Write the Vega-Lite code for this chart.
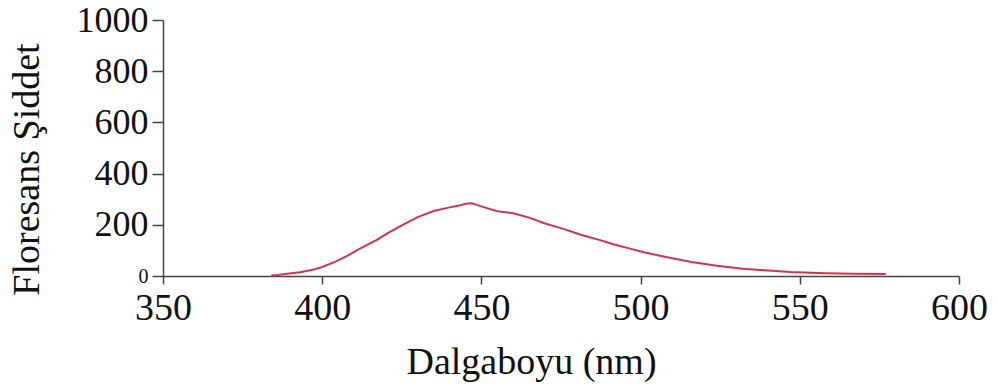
{
  "$schema": "https://vega.github.io/schema/vega-lite/v6.json",
  "autosize": "none",
  "width": 796,
  "height": 256,
  "padding": {"left": 163, "top": 20, "right": 39, "bottom": 115},
  "background": "white",
  "config": {
    "view": {"stroke": null},
    "font": "Liberation Serif",
    "axis": {
      "grid": false,
      "domainColor": "#444444",
      "tickColor": "#444444",
      "domainWidth": 1.5,
      "tickWidth": 1.5,
      "labelFont": "Liberation Serif",
      "titleFont": "Liberation Serif",
      "labelColor": "#111111",
      "titleColor": "#111111",
      "titleFontWeight": "normal",
      "labelFontSize": 38,
      "titleFontSize": 38
    }
  },
  "data": {
    "values": [
      {"wavelength": 384, "intensity": 2},
      {"wavelength": 386, "intensity": 4},
      {"wavelength": 389, "intensity": 9},
      {"wavelength": 393, "intensity": 15},
      {"wavelength": 397, "intensity": 24},
      {"wavelength": 400, "intensity": 35},
      {"wavelength": 404, "intensity": 55},
      {"wavelength": 408, "intensity": 80},
      {"wavelength": 412, "intensity": 108},
      {"wavelength": 417, "intensity": 140},
      {"wavelength": 421, "intensity": 170},
      {"wavelength": 425, "intensity": 198},
      {"wavelength": 430, "intensity": 230},
      {"wavelength": 435, "intensity": 254},
      {"wavelength": 440, "intensity": 268},
      {"wavelength": 443, "intensity": 275},
      {"wavelength": 445, "intensity": 282},
      {"wavelength": 447, "intensity": 284},
      {"wavelength": 449, "intensity": 276},
      {"wavelength": 451, "intensity": 268},
      {"wavelength": 455, "intensity": 253},
      {"wavelength": 460, "intensity": 245},
      {"wavelength": 465, "intensity": 228},
      {"wavelength": 470, "intensity": 205},
      {"wavelength": 476, "intensity": 183},
      {"wavelength": 481, "intensity": 162},
      {"wavelength": 487, "intensity": 141},
      {"wavelength": 492, "intensity": 122},
      {"wavelength": 497, "intensity": 106},
      {"wavelength": 501, "intensity": 93},
      {"wavelength": 508, "intensity": 74},
      {"wavelength": 516, "intensity": 55},
      {"wavelength": 524, "intensity": 40},
      {"wavelength": 532, "intensity": 28},
      {"wavelength": 539, "intensity": 22},
      {"wavelength": 547, "intensity": 16},
      {"wavelength": 558, "intensity": 11},
      {"wavelength": 567, "intensity": 9},
      {"wavelength": 577, "intensity": 8}
    ]
  },
  "mark": {"type": "line", "color": "#d0344f", "strokeWidth": 2},
  "encoding": {
    "x": {
      "field": "wavelength",
      "type": "quantitative",
      "scale": {"domain": [350, 600], "nice": false, "zero": false},
      "axis": {
        "title": "Dalgaboyu (nm)",
        "values": [350, 400, 450, 500, 550, 600],
        "format": "d",
        "tickSize": 8,
        "labelPadding": 5,
        "labelFlush": false,
        "labelOverlap": false,
        "titleX": 368,
        "titleY": 97,
        "titleAlign": "center",
        "titleBaseline": "alphabetic"
      }
    },
    "y": {
      "field": "intensity",
      "type": "quantitative",
      "scale": {"domain": [0, 1000], "nice": false},
      "axis": {
        "title": "Floresans Şiddet",
        "values": [0, 200, 400, 600, 800, 1000],
        "format": "d",
        "tickSize": 11,
        "labelPadding": 4,
        "labelFontSize": {"condition": {"test": "datum.value === 0", "value": 20}, "value": 36},
        "labelFlush": false,
        "labelOverlap": false,
        "titleAngle": -90,
        "titleX": -125,
        "titleY": 149,
        "titleAlign": "center",
        "titleBaseline": "alphabetic"
      }
    }
  }
}
